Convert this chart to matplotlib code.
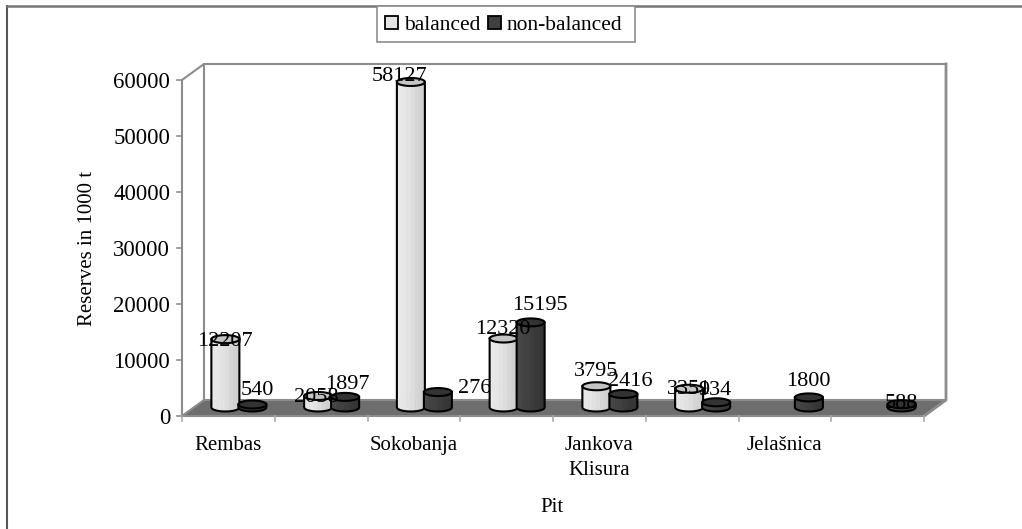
import numpy as np
import matplotlib
matplotlib.use("Agg")
import matplotlib.pyplot as plt
from matplotlib.lines import Line2D
from matplotlib.patches import Polygon, Rectangle

plt.rcParams['font.family'] = ['Liberation Serif', 'DejaVu Serif']

# Data
categories = ['Rembas', '', 'Sokobanja', '', 'Jankova\nKlisura', '', 'Jelašnica', '']
balanced = [12207, 2058, 58127, 12320, 3795, 3351, 0, 0]
non_balanced = [540, 1897, 2760, 15195, 2416, 934, 1800, 588]
y_ticks = [0, 10000, 20000, 30000, 40000, 50000, 60000]

# hand nudges of the data labels, in pixels
balanced_nudge = [(0, -16), (-2, -16), (-11, -9), (-1, -5), (0, 1), (0, -15), (0, 0), (0, 0)]
non_balanced_nudge = [(5, 0), (2, -2), (42, -10), (9, 3), (7, -2), (-1, -2), (-1, 2), (0, -13)]

W, H = 1022, 529
GRAY = '#8c8c8c'
FLOOR = '#6e6e6e'
DEPTH = (22, 16)      # pixels the back wall is shifted by
MID = (10.5, 8.5)     # pixels the bars are shifted by

fig = plt.figure(figsize=(W / 100, H / 100), dpi=100)

# only the top and left edges of the frame show in the picture
fig.add_artist(Line2D([7 / W, 7 / W], [0, 1 - 6 / H], color='#555555', lw=1.5))
fig.add_artist(Line2D([7 / W, 1], [1 - 6 / H, 1 - 6 / H], color='#777777', lw=1.8))

# front plane of the 3d box
ax = fig.add_axes([182 / W, (H - 416) / H, 742 / W, 336 / H])
ax.set_xlim(0, len(categories))
ax.set_ylim(0, 60000)
ax.axis('off')

# pixels -> data units, so the cylinders can be sized on screen
px_x = len(categories) / 742
px_y = 60000 / 336
n = len(categories)
back_x = DEPTH[0] * px_x
back_y = DEPTH[1] * px_y

# floor and back wall
ax.add_patch(Polygon([(0, 0), (n, 0), (n + back_x, back_y), (back_x, back_y)],
                     fc=FLOOR, ec=GRAY, lw=1.5, clip_on=False, zorder=1))
ax.plot([0, 0, back_x, back_x], [0, 60000, 60000 + back_y, back_y],
        color=GRAY, lw=1.5, clip_on=False, zorder=1)
ax.plot([back_x, n + back_x], [60000 + back_y, 60000 + back_y], color=GRAY, lw=1.5, clip_on=False, zorder=1)
ax.plot([n + back_x, n + back_x, n], [60000 + back_y, back_y, 0], color=GRAY, lw=2, clip_on=False, zorder=1)

# ticks
for v in y_ticks:
    ax.plot([-5 * px_x, 0], [v, v], color=GRAY, lw=1.2, clip_on=False)
    ax.text(-12 * px_x, v - 3 * px_y, str(v), ha='right', va='center', fontsize=16.4, clip_on=False)
for i in range(n + 1):
    ax.plot([i, i], [0, -5 * px_y], color='#aaaaaa', lw=1.2, clip_on=False)
for i, c in enumerate(categories):
    ax.text(i + 0.5, -20 * px_y, c, ha='center', va='top', fontsize=15, linespacing=1.4, clip_on=False)


def cylinder(x_center, value, light, z):
    # cylinder drawn as narrow facets, like the old 3d bar look
    half = 14 * px_x
    ry = 4 * px_y
    base = MID[1] * px_y
    th = np.linspace(np.pi, 2 * np.pi, 11)
    xs = x_center + half * np.cos(th)
    low = base + ry * np.sin(th)
    top = base + value + ry * np.sin(th)
    if light:
        shades = ['#ececec', '#ebebeb', '#e8e8e8', '#e6e6e6', '#e2e2e2', '#dddddd', '#d6d6d6', '#d2d2d2', '#cfcfcf', '#d4d4d4']
        cap = '#c4c4c4'
    else:
        shades = ['#4c4c4c', '#484848', '#464646', '#424242', '#404040', '#3c3c3c', '#383838', '#363636', '#343434', '#383838']
        cap = '#333333'
    for k in range(10):
        ax.add_patch(Polygon([(xs[k], low[k]), (xs[k + 1], low[k + 1]), (xs[k + 1], top[k + 1]), (xs[k], top[k])],
                             fc=shades[k], ec=shades[k], lw=0.6, zorder=z, clip_on=False))
    th2 = np.linspace(0, 2 * np.pi, 41)
    cx = x_center + half * np.cos(th2)
    cy = base + value + ry * np.sin(th2)
    ax.add_patch(Polygon(np.column_stack([cx, cy]), fc=cap, ec='black', lw=1.5, zorder=z, clip_on=False))
    ax.plot(np.r_[xs[0], xs, xs[-1]], np.r_[base + value, low, base + value], color='black', lw=1.5, zorder=z, clip_on=False)


# bars: balanced sits left of the category centre, non-balanced right of it
for i in range(n):
    mid = i + 0.5 + MID[0] * px_x
    left = mid - 13.5 * px_x
    right = mid + 13.5 * px_x
    if balanced[i] > 0:
        cylinder(left, balanced[i], True, 5 + i * 2)
        dx, dy = balanced_nudge[i]
        ax.text(left + dx * px_x, balanced[i] + (13 + dy) * px_y, str(balanced[i]), ha='center', va='bottom',
                fontsize=16, zorder=40, clip_on=False)
    cylinder(right, non_balanced[i], False, 6 + i * 2)
    dx, dy = non_balanced_nudge[i]
    # the 2760 label slips behind the next cylinder in the picture
    z = 8 if non_balanced[i] == 2760 else 40
    ax.text(right + dx * px_x, non_balanced[i] + (13 + dy) * px_y, str(non_balanced[i]), ha='center', va='bottom',
            fontsize=16, zorder=z, clip_on=False)

# axis titles
fig.text(87 / W, 1 - 248 / H, 'Reserves in 1000 t', rotation=90, ha='center', va='center', fontsize=15)
fig.text(552 / W, 1 - 508 / H, 'Pit', ha='center', va='center', fontsize=15)

# legend box, sits on the top border
fig.patches.append(Rectangle((377 / W, 1 - 42 / H), 258 / W, 36 / H, transform=fig.transFigure,
                             fc='white', ec=GRAY, lw=1.2, zorder=3))
fig.patches.append(Rectangle((385 / W, 1 - 29 / H), 13 / W, 13 / H, transform=fig.transFigure,
                             fc='#e4e4e4', ec='black', lw=1.3, zorder=4))
fig.patches.append(Rectangle((488 / W, 1 - 29 / H), 13 / W, 13 / H, transform=fig.transFigure,
                             fc='#404040', ec='black', lw=1.3, zorder=4))
fig.text(404 / W, 1 - 25 / H, 'balanced', ha='left', va='center', fontsize=15.5, zorder=5)
fig.text(507 / W, 1 - 25 / H, 'non-balanced', ha='left', va='center', fontsize=15.5, zorder=5)

fig.savefig('out.png', dpi=100)
